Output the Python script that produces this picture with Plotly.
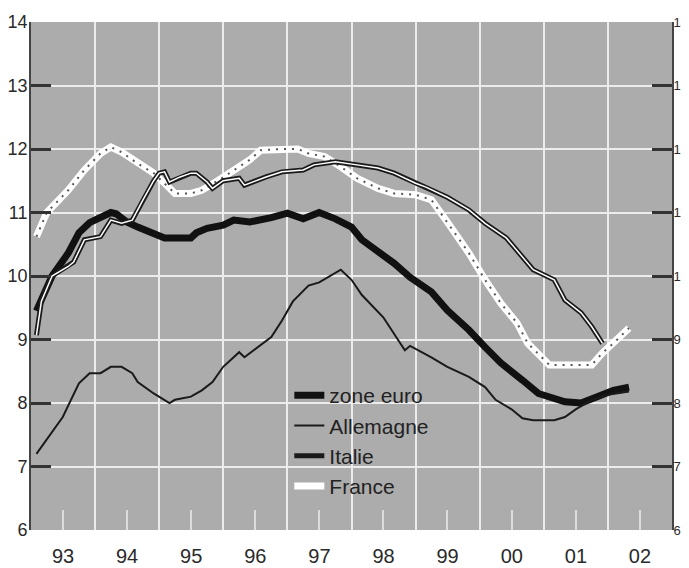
import plotly.graph_objects as go

# ---- data (monthly unemployment rates, %) ----
ze_dates = ["1993-02", "1993-05", "1993-08", "1993-10", "1993-12", "1994-02", "1994-04", "1994-05",
            "1994-07", "1994-09", "1994-12", "1995-02", "1995-07", "1995-08", "1995-10", "1996-01",
            "1996-03", "1996-06", "1996-10", "1997-01", "1997-04", "1997-07", "1997-10", "1998-01",
            "1998-03", "1998-06", "1998-09", "1998-12", "1999-04", "1999-07", "1999-11", "2000-02",
            "2000-05", "2000-09", "2000-12", "2001-05", "2001-08", "2001-11", "2002-02", "2002-05"]
ze_vals = [9.45, 10.0, 10.36, 10.68, 10.84, 10.93, 11.0, 10.98,
           10.85, 10.77, 10.68, 10.6, 10.6, 10.68, 10.75, 10.8,
           10.88, 10.85, 10.92, 10.99, 10.9, 11.0, 10.9, 10.77,
           10.57, 10.4, 10.2, 9.98, 9.75, 9.46, 9.15, 8.88,
           8.63, 8.36, 8.15, 8.02, 8.0, 8.1, 8.2, 8.25]

de_dates = ["1993-02", "1993-07", "1993-10", "1993-12", "1994-02", "1994-04", "1994-06", "1994-08",
            "1994-09", "1994-11", "1994-12", "1995-03", "1995-04", "1995-07", "1995-09", "1995-11",
            "1996-01", "1996-04", "1996-05", "1996-10", "1996-12", "1997-02", "1997-05", "1997-07",
            "1997-11", "1998-01", "1998-03", "1998-07", "1998-11", "1998-12", "1999-04", "1999-07",
            "1999-11", "2000-02", "2000-04", "2000-07", "2000-09", "2000-11", "2001-03", "2001-05",
            "2001-07", "2001-10", "2002-01", "2002-05"]
de_vals = [7.2, 7.78, 8.31, 8.47, 8.47, 8.57, 8.57, 8.47,
           8.33, 8.2, 8.15, 8.0, 8.05, 8.1, 8.2, 8.33,
           8.57, 8.8, 8.72, 9.04, 9.3, 9.6, 9.85, 9.9,
           10.1, 9.94, 9.7, 9.35, 8.83, 8.9, 8.72, 8.57,
           8.41, 8.25, 8.05, 7.9, 7.76, 7.73, 7.73, 7.78,
           7.9, 8.05, 8.13, 8.18]

it_dates = ["1993-02", "1993-03", "1993-05", "1993-08", "1993-09", "1993-11", "1994-02", "1994-04",
            "1994-06", "1994-08", "1994-10", "1994-12", "1995-01", "1995-02", "1995-03", "1995-05",
            "1995-07", "1995-08", "1995-10", "1995-11", "1996-01", "1996-04", "1996-05", "1996-09",
            "1996-12", "1997-04", "1997-06", "1997-10", "1998-02", "1998-06", "1998-09", "1999-01",
            "1999-03", "1999-07", "1999-11", "2000-02", "2000-06", "2000-08", "2000-11", "2001-03",
            "2001-05", "2001-08", "2001-10", "2001-12"]
it_vals = [9.07, 9.6, 10.0, 10.15, 10.22, 10.57, 10.62, 10.88,
           10.83, 10.88, 11.2, 11.5, 11.62, 11.64, 11.48, 11.56,
           11.62, 11.62, 11.48, 11.38, 11.5, 11.54, 11.43, 11.56,
           11.64, 11.67, 11.75, 11.8, 11.75, 11.7, 11.62, 11.46,
           11.4, 11.24, 11.04, 10.83, 10.6, 10.4, 10.1, 9.94,
           9.62, 9.42, 9.2, 8.94]

fr_dates = ["1993-02", "1993-04", "1993-08", "1993-11", "1994-02", "1994-04", "1994-06", "1994-09",
            "1994-12", "1995-02", "1995-04", "1995-07", "1995-09", "1995-12", "1996-03", "1996-06",
            "1996-08", "1996-12", "1997-03", "1997-05", "1997-08", "1997-11", "1998-02", "1998-06",
            "1998-09", "1999-01", "1999-04", "1999-07", "1999-11", "2000-02", "2000-05", "2000-08",
            "2000-10", "2001-02", "2001-10", "2001-12", "2002-02", "2002-05"]
fr_vals = [10.62, 11.0, 11.35, 11.67, 11.93, 12.03, 11.95, 11.77,
           11.62, 11.46, 11.3, 11.3, 11.35, 11.5, 11.67, 11.83,
           11.98, 12.0, 12.0, 11.93, 11.88, 11.72, 11.54, 11.38,
           11.3, 11.28, 11.2, 10.85, 10.36, 9.94, 9.57, 9.26,
           8.94, 8.6, 8.6, 8.79, 8.94, 9.18]

y_ticks = [6, 7, 8, 9, 10, 11, 12, 13, 14]
x_range = ["1993-01-01", "2003-01-01"]

FONT = "Liberation Sans, Arial, sans-serif"
BG = "#acacac"
GRID = "#ececec"
DARK = "#2a2a2a"

fig = go.Figure()

# France: white broad line with dark dots
fig.add_trace(go.Scatter(x=fr_dates, y=fr_vals, mode="lines", name="France",
                         line=dict(color="white", width=7), legendrank=4))
fig.add_trace(go.Scatter(x=fr_dates, y=fr_vals, mode="lines", showlegend=False,
                         line=dict(color="#555555", width=2, dash="2px,6px"), hoverinfo="skip"))
# zone euro: thick black
fig.add_trace(go.Scatter(x=ze_dates, y=ze_vals, mode="lines", name="zone euro",
                         line=dict(color="#111111", width=7), legendrank=1))
# Allemagne: thin black
fig.add_trace(go.Scatter(x=de_dates, y=de_vals, mode="lines", name="Allemagne",
                         line=dict(color="#1a1a1a", width=2), legendrank=2))
# Italie: double line (black outline, white core)
fig.add_trace(go.Scatter(x=it_dates, y=it_vals, mode="lines", name="Italie",
                         line=dict(color="#1a1a1a", width=5), legendrank=3))
fig.add_trace(go.Scatter(x=it_dates, y=it_vals, mode="lines", showlegend=False,
                         line=dict(color="white", width=1.5), hoverinfo="skip"))
# invisible copy on the right-hand axis so that its labels get drawn
fig.add_trace(go.Scatter(x=ze_dates, y=ze_vals, mode="lines", yaxis="y2", showlegend=False,
                         opacity=0, line=dict(width=0), hoverinfo="skip"))

# the page adds an 8px body margin, so the figure is sized to fit the window
fig.update_layout(
    width=681, height=560,
    margin=dict(l=23, r=17, t=14, b=38, autoexpand=False),
    paper_bgcolor="white",
    plot_bgcolor=BG,
    font=dict(family=FONT, color=DARK, size=18),
    showlegend=True,
    legend=dict(x=0.403, xanchor="left", y=0.305, yanchor="top",
                bgcolor="rgba(0,0,0,0)", borderwidth=0,
                font=dict(family=FONT, size=21, color="#222222"),
                tracegroupgap=0),
    xaxis=dict(
        type="date", range=x_range, automargin=False,
        dtick="M12", tick0="1993-01-01", ticklabelmode="period", tickformat="%y",
        showgrid=True, gridcolor=GRID, gridwidth=2,
        ticks="", showline=False, zeroline=False,
        ticklabelstandoff=12,
        tickfont=dict(size=20, color=DARK),
        minor=dict(ticks="inside", ticklen=20, tickwidth=2, tickcolor="rgba(236,236,236,0.75)",
                   dtick="M12", tick0="1993-07-01", showgrid=False),
    ),
    yaxis=dict(
        range=[6, 14], tickvals=y_ticks, automargin=False,
        showgrid=True, gridcolor=GRID, gridwidth=2, zeroline=False,
        ticks="inside", ticklen=20, tickwidth=2.5, tickcolor="#333333",
        showline=True, linecolor="#444444", linewidth=2,
        ticklabelstandoff=-2,
        tickfont=dict(size=18, color=DARK),
    ),
    yaxis2=dict(
        range=[6, 14], tickvals=y_ticks, overlaying="y", side="right", automargin=False,
        showgrid=False, zeroline=False,
        ticks="inside", ticklen=20, tickwidth=2.5, tickcolor="#333333",
        showline=True, linecolor="#444444", linewidth=2,
        ticklabelstandoff=-3, ticklabeloverflow="allow",
        tickfont=dict(size=13, color=DARK),
    ),
)

fig.write_html("out.html")
